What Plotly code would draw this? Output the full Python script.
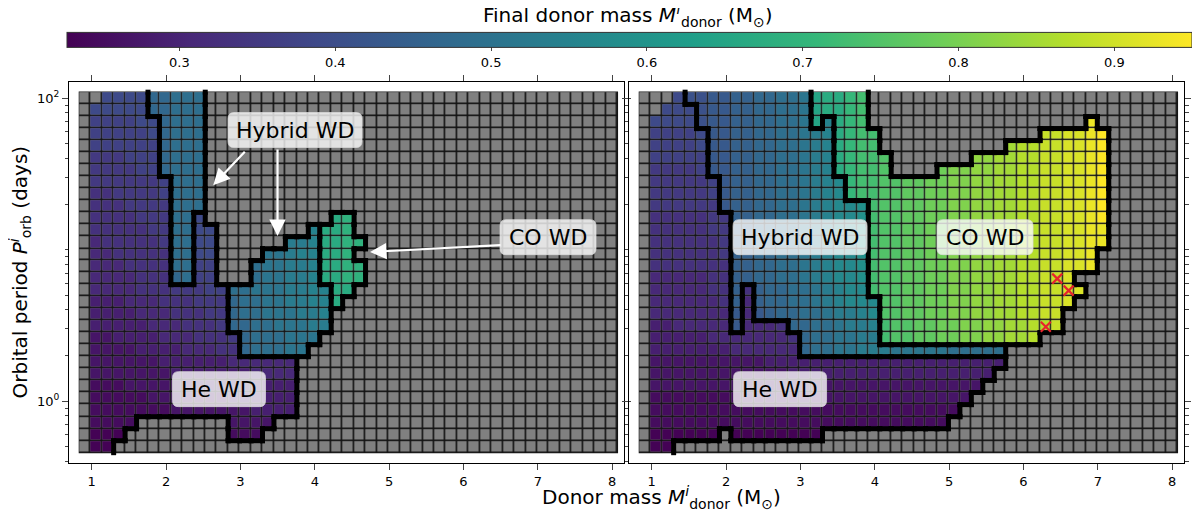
import numpy as np
import plotly.graph_objects as go

# ---------------- data ----------------
donor_mass = [0.910, 1.064, 1.218, 1.372, 1.526, 1.680, 1.834, 1.988, 2.142, 2.296, 2.450, 2.604,
              2.758, 2.912, 3.066, 3.220, 3.374, 3.528, 3.682, 3.836, 3.990, 4.144, 4.298, 4.452,
              4.606, 4.760, 4.914, 5.068, 5.222, 5.376, 5.530, 5.684, 5.838, 5.992, 6.146, 6.300,
              6.454, 6.608, 6.762, 6.916, 7.070, 7.224, 7.378, 7.532, 7.686, 7.840, 7.994]
orbital_period = [0.5, 0.6, 0.72, 0.865, 1.04, 1.25, 1.5, 1.8, 2.15, 2.59, 3.1, 3.73, 4.47, 5.37,
                  6.44, 7.74, 9.28, 11.1, 13.4, 16.1, 19.3, 23.1, 27.8, 33.3, 40.0, 48.0, 57.6,
                  69.2, 83.0, 100.0]

# value code: one character per cell (final donor mass, Msun)
value_chars = "0123456789abcdefghijklmnopqrstuvwxyzA"
value_levels = [0.23, 0.25, 0.27, 0.29, 0.31, 0.33, 0.35, 0.37, 0.39, 0.41, 0.43, 0.45,
                0.47, 0.49, 0.51, 0.53, 0.55, 0.57, 0.59, 0.61, 0.63, 0.65, 0.67, 0.69,
                0.71, 0.73, 0.75, 0.77, 0.79, 0.81, 0.83, 0.85, 0.87, 0.89, 0.91, 0.93, 0.95]

# labels: '.' no run, '#' no WD (gray), 'h' He WD, 'y' hybrid WD, 'c' CO WD  (top row = 100 d)
left_labels = [
    ".." + "h"*4 + "y"*5 + "#"*36,
    "." + "h"*5 + "y"*5 + "#"*36,
    "." + "h"*6 + "y"*4 + "#"*36,
    "." + "h"*6 + "y"*4 + "#"*36,
    "." + "h"*6 + "y"*4 + "#"*36,
    "." + "h"*6 + "y"*4 + "#"*36,
    "." + "h"*6 + "y"*4 + "#"*36,
    "." + "h"*7 + "y"*3 + "#"*36,
    "." + "h"*7 + "y"*3 + "#"*36,
    "." + "h"*7 + "y"*3 + "#"*36,
    "." + "h"*7 + "yy" + "h" + "#"*11 + "cc" + "#"*23,
    "." + "h"*7 + "yy" + "hh" + "#"*8 + "y" + "ccc" + "#"*23,
    "." + "h"*7 + "yy" + "hh" + "#"*6 + "yyy" + "cccc" + "#"*22,
    "." + "h"*7 + "yy" + "hh" + "#"*4 + "y"*5 + "ccc" + "#"*23,
    "." + "h"*7 + "yy" + "hh" + "#"*3 + "y"*6 + "cccc" + "#"*22,
    "." + "h"*7 + "yy" + "hh" + "#"*3 + "y"*6 + "cccc" + "#"*22,
    "." + "h"*12 + "y"*9 + "cc" + "#"*23,
    "." + "h"*12 + "y"*9 + "c" + "#"*24,
    "." + "h"*12 + "y"*9 + "#"*25,
    "." + "h"*12 + "y"*9 + "#"*25,
    "." + "h"*13 + "y"*7 + "#"*26,
    "." + "h"*13 + "y"*6 + "#"*27,
    "." + "h"*18 + "#"*28,
    "." + "h"*18 + "#"*28,
    "." + "h"*18 + "#"*28,
    "." + "h"*18 + "#"*28,
    "." + "h"*18 + "#"*28,
    "." + "h"*4 + "#"*8 + "h"*4 + "#"*30,
    "." + "h"*3 + "#"*9 + "h"*3 + "#"*31,
    "." + "h"*2 + "#"*44,
]
left_values = [
    ".." + "8888" + "ccddd" + "."*36,
    "." + "88888" + "ccddd" + "."*36,
    "." + "777788" + "cddd" + "."*36,
    "." + "777778" + "cddd" + "."*36,
    "." + "777777" + "cddd" + "."*36,
    "." + "666777" + "cddd" + "."*36,
    "." + "666677" + "cddd" + "."*36,
    "." + "6666667" + "ddd" + "."*36,
    "." + "5566667" + "ddd" + "."*36,
    "." + "5556666" + "ddd" + "."*36,
    "." + "5555666" + "dd" + "8" + "."*11 + "mn" + "."*23,
    "." + "5555566" + "dd" + "88" + "."*8 + "g" + "mmn" + "."*23,
    "." + "4555556" + "dd" + "88" + "."*6 + "ffg" + "mmnn" + "."*22,
    "." + "4455555" + "dd" + "88" + "."*4 + "eefgg" + "mmn" + "."*23,
    "." + "4445555" + "dd" + "77" + "."*3 + "deeffg" + "mmnn" + "."*22,
    "." + "4444555" + "cd" + "77" + "."*3 + "deeffg" + "mmnn" + "."*22,
    "." + "444455566677" + "ddeeeffgg" + "mm" + "."*23,
    "." + "333444555666" + "cddeeffgg" + "m" + "."*24,
    "." + "333344455566" + "cddeeeffg" + "."*25,
    "." + "333334445556" + "ccddeeeff" + "."*25,
    "." + "2233334445556" + "cdddeee" + "."*26,
    "." + "2222333344455" + "cdddee" + "."*27,
    "." + "222222333333444444" + "."*28,
    "." + "222222233333334444" + "."*28,
    "." + "111222222333333333" + "."*28,
    "." + "111112222222333333" + "."*28,
    "." + "111111122222223333" + "."*28,
    "." + "1111" + "."*8 + "2222" + "."*30,
    "." + "000" + "."*9 + "111" + "."*31,
    "." + "00" + "."*44,
]

right_labels = [
    "..." + "h" + "y"*11 + "c"*5 + "#"*27,
    ".." + "h"*3 + "y"*10 + "c"*5 + "#"*27,
    "." + "h"*4 + "y"*10 + "c" + "y" + "ccc" + "#"*19 + "c" + "#"*7,
    "." + "h"*5 + "y"*11 + "c"*4 + "#"*14 + "c"*6 + "#"*6,
    "." + "h"*5 + "y"*11 + "c"*4 + "#"*11 + "c"*9 + "#"*6,
    "." + "h"*5 + "y"*11 + "c"*5 + "#"*7 + "c"*12 + "#"*6,
    "." + "h"*5 + "y"*11 + "c"*5 + "#"*4 + "c"*15 + "#"*6,
    "." + "h"*6 + "y"*11 + "c"*23 + "#"*6,
    "." + "h"*6 + "y"*11 + "c"*23 + "#"*6,
    "." + "h"*6 + "y"*13 + "c"*21 + "#"*6,
    "." + "h"*7 + "y"*12 + "c"*21 + "#"*6,
    "." + "h"*7 + "y"*12 + "c"*21 + "#"*6,
    "." + "h"*7 + "y"*12 + "c"*21 + "#"*6,
    "." + "h"*7 + "y"*12 + "c"*20 + "#"*7,
    "." + "h"*7 + "y"*12 + "c"*20 + "#"*7,
    "." + "h"*7 + "y"*12 + "c"*18 + "#"*9,
    "." + "h"*7 + "y" + "h" + "y"*10 + "c"*19 + "#"*8,
    "." + "h"*7 + "y" + "h" + "y"*11 + "c"*17 + "#"*9,
    "." + "h"*7 + "y" + "h" + "y"*11 + "c"*16 + "#"*10,
    "." + "h"*7 + "y" + "h"*4 + "y"*8 + "c"*16 + "#"*10,
    "." + "h"*13 + "y"*7 + "c"*14 + "#"*12,
    "." + "h"*13 + "y"*18 + "#"*15,
    "." + "h"*31 + "#"*15,
    "." + "h"*30 + "#"*16,
    "." + "h"*29 + "#"*17,
    "." + "h"*28 + "#"*18,
    "." + "h"*27 + "#"*19,
    "." + "h"*26 + "#"*20,
    "." + "h"*6 + "#" + "h"*8 + "#"*31,
    "." + "hh" + "#"*44,
]
right_values = [
    "..." + "8" + "99aabbccdde" + "lmmop" + "."*27,
    ".." + "888" + "9aabbccdde" + "lmmop" + "."*27,
    "." + "8888" + "9aabbccdde" + "l" + "g" + "mop" + "."*19 + "z" + "."*7,
    "." + "77778" + "aabbccddefg" + "mopp" + "."*14 + "xxyyzA" + "."*6,
    "." + "77778" + "aabbccddefg" + "mopp" + "."*11 + "vwwxxyyzA" + "."*6,
    "." + "77777" + "aabbccddefg" + "moppq" + "."*7 + "uuvvwwxxyyzA" + "."*6,
    "." + "66667" + "aabbccddefg" + "moppq" + "."*4 + "sttuuvvwwxxyyzA" + "."*6,
    "." + "666667" + "abbccddefgh" + "oppqqrrssttuuvvwwxxyyzA" + "."*6,
    "." + "666667" + "abbccddefgh" + "oppqqrrssttuuvvwwxxyyzA" + "."*6,
    "." + "666666" + "abbccddefghhi" + "pqqrrssttuuvvwwxxyyzA" + "."*6,
    "." + "5555566" + "bbccddefghhi" + "pqqrrssttuuvvwwxxyyzA" + "."*6,
    "." + "5555566" + "bbccddefghhi" + "pqqrrssttuuvvwwxxyyzz" + "."*6,
    "." + "5555556" + "bbccddefghhi" + "pqqrrssttuuvvwwxxyyzz" + "."*6,
    "." + "5555556" + "bbccddefghhi" + "pqqrrssttuuvvwwxxyyz" + "."*7,
    "." + "5555555" + "bbccddefghhi" + "pqqrrssttuuvvwwxxyyz" + "."*7,
    "." + "4444455" + "bbccddefghhi" + "pqqrrssttuuvvwwxxy" + "."*9,
    "." + "4444455" + "b" + "5" + "bccddefghh" + "pqqrrssttuuvvwwxxyy" + "."*8,
    "." + "4444445" + "b" + "4" + "bccddefghhh" + "qqrrssttuuvvwwxxy" + "."*9,
    "." + "4444444" + "a" + "4" + "abccddeffgh" + "qqrrssttuuvvwwxx" + "."*10,
    "." + "3344444" + "a" + "4445" + "ccddeffg" + "pqqrrssttuuvvwwx" + "."*10,
    "." + "3333344444445" + "cddeeff" + "pqqrrssttuuvvw" + "."*12,
    "." + "3333333444444" + "cddeefffeeeeeddddd" + "."*15,
    "." + "2"*10 + "3"*21 + "."*15,
    "." + "2"*12 + "3"*18 + "."*16,
    "." + "2"*29 + "."*17,
    "." + "1"*8 + "2"*20 + "."*18,
    "." + "1"*27 + "."*19,
    "." + "1"*26 + "."*20,
    "." + "000000" + "." + "00000000" + "."*31,
    "." + "00" + "."*44,
]

cross_mass = [6.454, 6.608, 6.300]
cross_period = [6.44, 5.37, 3.10]

cbar_ticks = [0.3, 0.4, 0.5, 0.6, 0.7, 0.8, 0.9]
cmin, cmax = 0.228, 0.95

# ---------------- helpers ----------------
code = dict(zip(value_chars, value_levels))
nx, ny = len(donor_mass), len(orbital_period)


def decode(labels, values):
    for r in labels + values:
        assert len(r) == nx, (len(r), r)
    lab = np.array([list(r) for r in labels[::-1]])
    z = np.full((ny, nx), np.nan)
    for i, row in enumerate(values[::-1]):
        for j, ch in enumerate(row):
            if ch in code and lab[i, j] in "hyc":
                z[i, j] = code[ch]
    return lab, z


xm = np.array(donor_mass)
xe = np.concatenate([[1.5 * xm[0] - 0.5 * xm[1]], 0.5 * (xm[1:] + xm[:-1]), [1.5 * xm[-1] - 0.5 * xm[-2]]])
lp = np.log10(orbital_period)
le = np.concatenate([[1.5 * lp[0] - 0.5 * lp[1]], 0.5 * (lp[1:] + lp[:-1]), [1.5 * lp[-1] - 0.5 * lp[-2]]])
ye = 10 ** le


def boundary(lab):
    xs, ys = [], []
    for i in range(ny):
        for j in range(nx - 1):
            a, b = lab[i, j], lab[i, j + 1]
            if a != b and a != '.' and b != '.':
                xs += [xe[j + 1], xe[j + 1], None]
                ys += [ye[i], ye[i + 1], None]
    for i in range(ny - 1):
        for j in range(nx):
            a, b = lab[i, j], lab[i + 1, j]
            if a != b and a != '.' and b != '.':
                xs += [xe[j], xe[j + 1], None]
                ys += [ye[i + 1], ye[i + 1], None]
    return xs, ys


fig = go.Figure()
FONT = "DejaVu Sans"
GAP = 1.6

for k, (labels, values) in enumerate([(left_labels, left_values), (right_labels, right_values)]):
    xa = "x" if k == 0 else "x2"
    ya = "y" if k == 0 else "y2"
    lab, z = decode(labels, values)
    fig.add_trace(go.Heatmap(x=xe, y=ye, z=np.zeros((ny, nx)), colorscale=[[0, "#808080"], [1, "#808080"]],
                             showscale=False, xgap=GAP, ygap=GAP, hoverinfo="skip", xaxis=xa, yaxis=ya))
    fig.add_trace(go.Heatmap(x=xe, y=ye, z=z, coloraxis="coloraxis", xgap=GAP, ygap=GAP,
                             hoverinfo="skip", xaxis=xa, yaxis=ya))
    bx, by = boundary(lab)
    fig.add_trace(go.Scatter(x=bx, y=by, mode="lines+markers", line=dict(color="black", width=5),
                             marker=dict(symbol="square", size=5, color="black"),
                             hoverinfo="skip", xaxis=xa, yaxis=ya))
    fig.add_shape(type="rect", x0=xe[0], x1=xe[-1], y0=ye[0], y1=ye[-1], xref=xa, yref=ya,
                  fillcolor="#141414", line=dict(width=1.2, color="#141414"), layer="below")

fig.add_trace(go.Scatter(x=cross_mass, y=cross_period, mode="markers",
                         marker=dict(symbol="x-thin", size=10, line=dict(color="#e8242c", width=2.2)),
                         hoverinfo="skip", xaxis="x2", yaxis="y2"))

xr = [0.6945, 8.159]
yr = [-0.4087, 2.1077]
minor_vals = [0.4, 0.5, 0.6, 0.7, 0.8, 0.9, 2, 3, 4, 5, 6, 7, 8, 9, 10, 20, 30, 40, 50, 60, 70, 80, 90]
axcommon = dict(showline=True, linecolor="black", linewidth=1, mirror="allticks", ticks="outside",
                showgrid=False, zeroline=False, tickfont=dict(family=FONT, size=13, color="black"))
xaxis = dict(range=xr, tickvals=[1, 2, 3, 4, 5, 6, 7, 8], ticklen=6, **axcommon)
yaxis = dict(type="log", range=yr, tickvals=[1, 100], ticktext=["10<sup>0</sup>", "10<sup>2</sup>"], ticklen=6,
             minor=dict(tickvals=minor_vals, ticklen=3.5, ticks="outside"), **axcommon)

# the page adds an 8 px body margin, so the figure is 8 px smaller and margins are shifted by 8 px
d1 = [0, (624 - 69) / 1115]
d2 = [(629 - 69) / 1115, 1]
fig.update_layout(
    width=1192, height=511, margin=dict(l=61, r=16, t=74, b=56, autoexpand=False),
    paper_bgcolor="white", plot_bgcolor="white", showlegend=False,
    font=dict(family=FONT, size=13, color="black"),
    xaxis=dict(domain=d1, anchor="y", **xaxis),
    xaxis2=dict(domain=d2, anchor="y2", **xaxis),
    yaxis=dict(domain=[0, 1], anchor="x", **yaxis),
    yaxis2=dict(domain=[0, 1], anchor="x2", showticklabels=False, **yaxis),
    coloraxis=dict(
        colorscale="Viridis", cmin=cmin, cmax=cmax,
        colorbar=dict(orientation="h", x=(629.75 - 69) / 1115, xanchor="center", y=(463 - 70.7) / 381,
                      yanchor="bottom", len=1125, lenmode="pixels", thickness=15, thicknessmode="pixels",
                      outlinewidth=1, outlinecolor="#333", tickvals=cbar_ticks, ticks="outside", ticklen=4,
                      tickfont=dict(family=FONT, size=13), xpad=0, ypad=0),
    ),
)

# colour-bar title and axis titles
fig.add_annotation(text="Final donor mass <i>M</i><sup><i>f</i></sup><sub>donor</sub> (M<sub>⊙</sub>)",
                   xref="paper", yref="paper", x=(628 - 69) / 1115, y=1 + (82 - 15.5) / 381, showarrow=False,
                   xanchor="center", yanchor="middle", font=dict(family=FONT, size=20))
fig.add_annotation(text="Donor mass <i>M</i><sup><i>i</i></sup><sub>donor</sub> (M<sub>⊙</sub>)",
                   xref="paper", yref="paper", x=(661 - 69) / 1115, y=0, yshift=-34, showarrow=False,
                   xanchor="center", yanchor="middle", font=dict(family=FONT, size=20))
fig.add_annotation(text="Orbital period <i>P</i><sup><i>i</i></sup><sub>orb</sub> (days)",
                   xref="paper", yref="paper", x=0, xshift=-49, y=0.5, textangle=-90, showarrow=False,
                   xanchor="center", yanchor="middle", font=dict(family=FONT, size=20))

# region labels with rounded translucent boxes
labels_info = [("Hybrid WD", 3.734, 61.7, "x", "y", 134), ("CO WD", 7.137, 12.1, "x", "y", 96),
               ("He WD", 2.712, 1.20, "x", "y", 93), ("Hybrid WD", 2.995, 12.1, "x2", "y2", 134),
               ("CO WD", 5.483, 12.1, "x2", "y2", 96), ("He WD", 2.726, 1.20, "x2", "y2", 93)]
for txt, x, y, xa, ya, w in labels_info:
    hw, hh, r = w / 2, 17.5, 6
    path = (f"M {-hw + r},{-hh} L {hw - r},{-hh} Q {hw},{-hh} {hw},{-hh + r} L {hw},{hh - r} "
            f"Q {hw},{hh} {hw - r},{hh} L {-hw + r},{hh} Q {-hw},{hh} {-hw},{hh - r} "
            f"L {-hw},{-hh + r} Q {-hw},{-hh} {-hw + r},{-hh} Z")
    fig.add_shape(type="path", path=path, xref=xa, yref=ya, xsizemode="pixel", ysizemode="pixel",
                  xanchor=x, yanchor=y, fillcolor="rgba(255,255,255,0.78)",
                  line=dict(width=0.8, color="rgba(220,220,220,0.9)"), layer="above")
    fig.add_annotation(text=txt, x=x, y=np.log10(y), xref=xa, yref=ya, showarrow=False,
                       font=dict(family=FONT, size=22, color="black"))

# arrows
for x, y, ax, ay in [(2.634, 26.7, 33, -35), (3.499, 12.32, 0, -88), (4.743, 9.66, 132, -7)]:
    fig.add_annotation(text="", x=x, y=np.log10(y), xref="x", yref="y", ax=ax, ay=ay, showarrow=True,
                       arrowhead=2, arrowsize=1.5, arrowwidth=2.2, arrowcolor="white")

fig.write_html("out.html")
